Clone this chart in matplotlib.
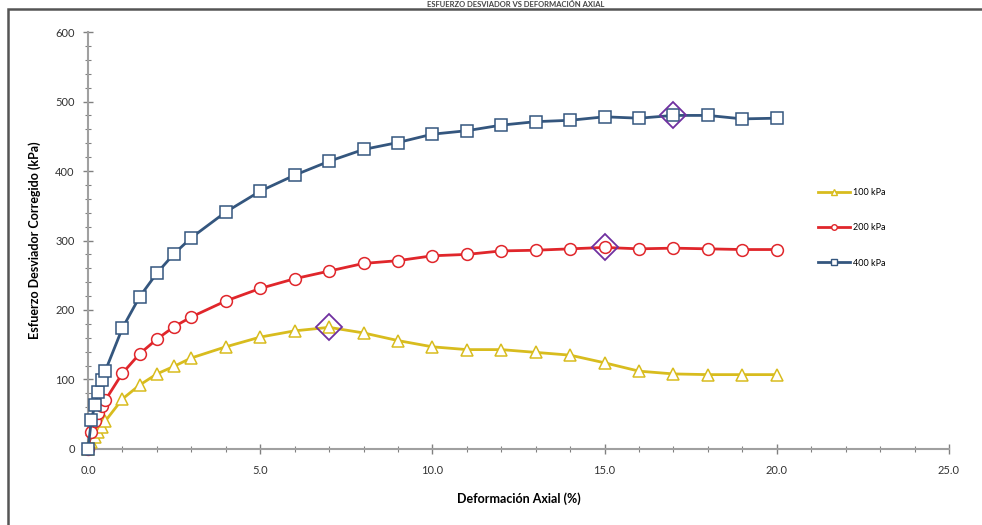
import matplotlib
matplotlib.use('Agg')
import matplotlib.pyplot as plt
from matplotlib.patches import Rectangle
from matplotlib.ticker import MultipleLocator, FormatStrFormatter

plt.rcParams['font.family'] = ['Lato', 'DejaVu Sans']

# strain (%) and corrected deviator stress (kPa)
strain = [0.0, 0.1, 0.2, 0.3, 0.4, 0.5, 1.0, 1.5, 2.0, 2.5, 3.0,
          4.0, 5.0, 6.0, 7.0, 8.0, 9.0, 10.0, 11.0, 12.0, 13.0,
          14.0, 15.0, 16.0, 17.0, 18.0, 19.0, 20.0]
q_100 = [0, 10, 17, 25, 32, 40, 72, 92, 108, 119, 131,
         147, 161, 170, 175, 167, 156, 147, 143, 143, 139,
         135, 124, 112, 108, 107, 107, 107]
q_200 = [0, 25, 40, 52, 62, 70, 109, 137, 158, 176, 190,
         213, 231, 245, 256, 267, 271, 278, 280, 285, 286,
         288, 290, 288, 289, 288, 287, 287]
q_400 = [0, 42, 63, 82, 99, 112, 174, 219, 253, 281, 304,
         341, 371, 394, 414, 431, 441, 453, 458, 466, 471,
         473, 478, 476, 480, 480, 475, 476]

# peak (failure) points
peak_strain = [7.0, 15.0, 17.0]
peak_q = [175, 290, 480]

labels = ['100 kPa', '200 kPa', '400 kPa']
colors = ['#D8BC1E', '#E0262B', '#34567E']
markers = ['^', 'o', 's']

fig = plt.figure(figsize=(9.82, 5.25), dpi=100)
ax = fig.add_axes([0.0896, 0.1448, 0.8768, 0.7942])

series = [q_100, q_200, q_400]
for q, lab, c, m in zip(series, labels, colors, markers):
    ax.plot(strain, q, color=c, lw=2, marker=m, markersize=8.5,
            markerfacecolor='white', markeredgecolor=c, markeredgewidth=1.1,
            clip_on=False, zorder=3)
    # legend proxy with small marker
    ax.plot([], [], color=c, lw=2, marker=m, markersize=4,
            markerfacecolor='white', markeredgecolor=c, label=lab)

ax.plot(peak_strain, peak_q, linestyle='none', marker='D', markersize=13,
        markerfacecolor='none', markeredgecolor='#7030A0', markeredgewidth=1.3,
        zorder=4)

ax.set_xlim(0, 25)
ax.set_ylim(0, 600)
ax.xaxis.set_major_locator(MultipleLocator(5))
ax.xaxis.set_minor_locator(MultipleLocator(1))
ax.yaxis.set_major_locator(MultipleLocator(100))
ax.yaxis.set_minor_locator(MultipleLocator(20))
ax.xaxis.set_major_formatter(FormatStrFormatter('%.1f'))
ax.tick_params(which='major', direction='inout', length=7, width=1,
               color='#808080', labelsize=8, labelcolor='#333333')
ax.tick_params(which='minor', direction='inout', length=4, width=0.8,
               color='#808080')
ax.tick_params(axis='x', pad=8)
ax.tick_params(axis='y', pad=6)

for s in ['top', 'right']:
    ax.spines[s].set_visible(False)
for s in ['left', 'bottom']:
    ax.spines[s].set_color('#a0a0a0')
    ax.spines[s].set_linewidth(1.5)

ax.set_xlabel('Deformación Axial (%)', fontsize=9, fontweight='bold', labelpad=12)
ax.set_ylabel('Esfuerzo Desviador Corregido (kPa)', fontsize=9,
              fontweight='bold', labelpad=10)

leg = ax.legend(loc='upper left', bbox_to_anchor=(0.838, 0.645), frameon=False,
                fontsize=6.5, handlelength=3.6, labelspacing=2.9, handletextpad=0.3)

# outer chart border and title squeezed above it
fig.patches.append(Rectangle((8 / 982, -0.1), 1.2, 1.1 - 9 / 525,
                             transform=fig.transFigure, fill=False,
                             edgecolor='#555555', lw=1.8))
fig.text(0.525, 0.999, 'ESFUERZO DESVIADOR VS DEFORMACIÓN AXIAL', ha='center',
         va='top', fontsize=5.5, fontweight='bold', color='#444444')

fig.savefig('out.png', dpi=100)
